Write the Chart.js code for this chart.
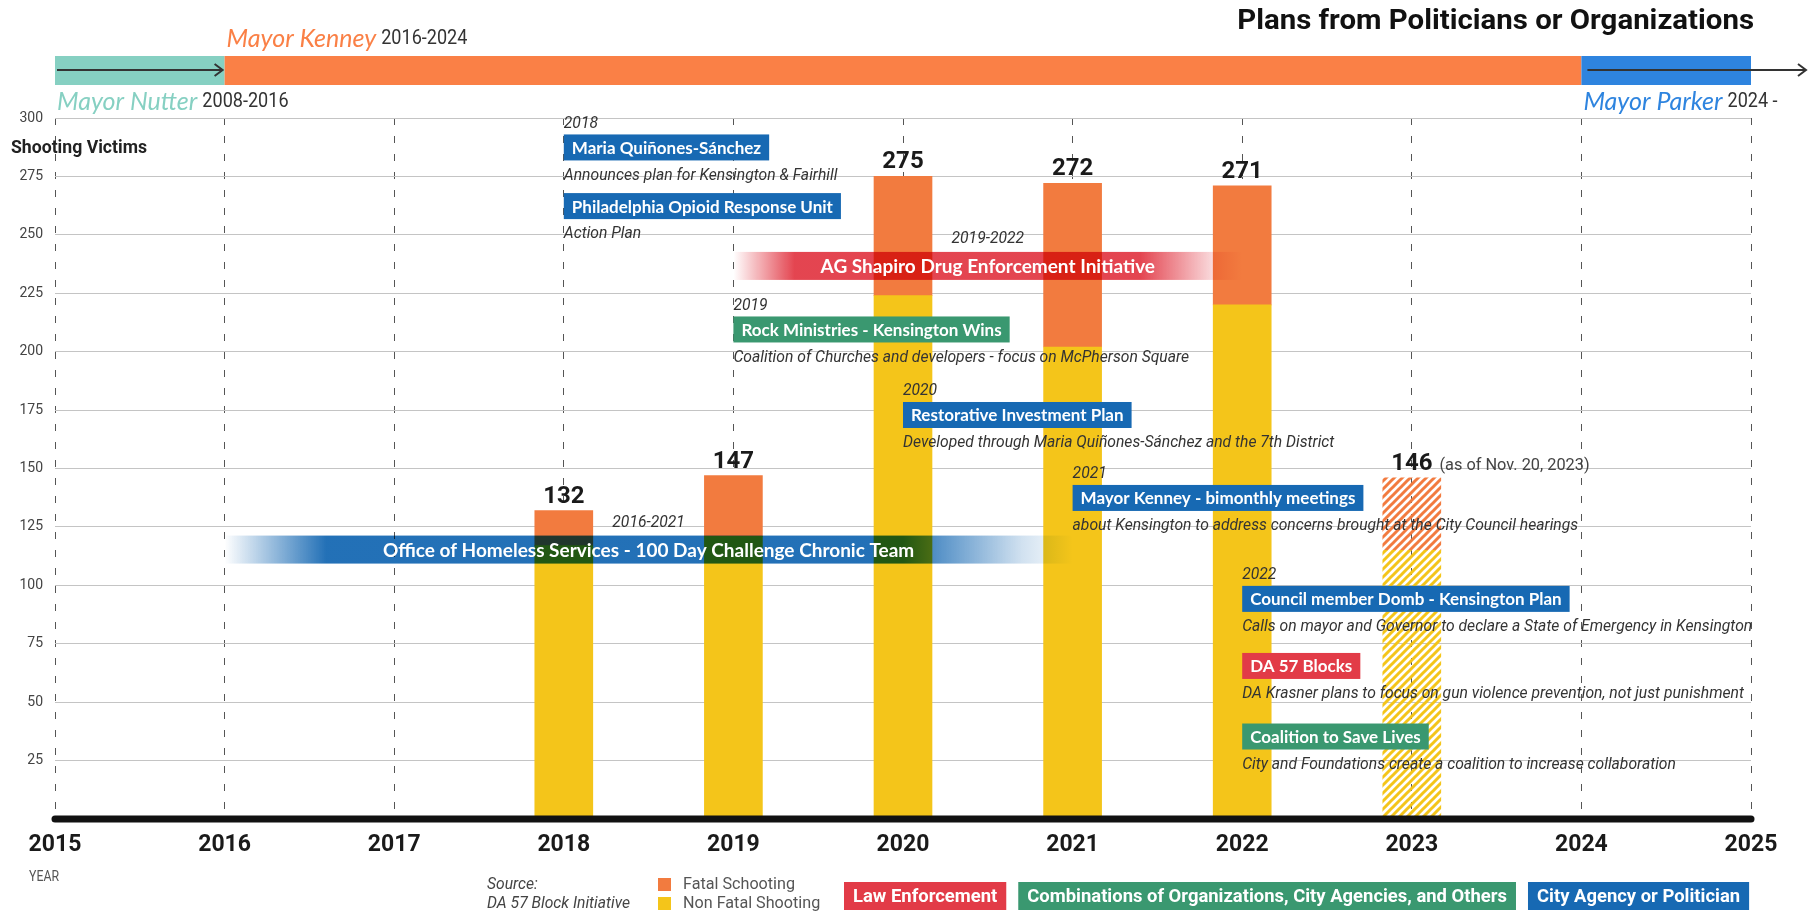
<!DOCTYPE html>
<html>
<head>
<meta charset="utf-8">
<script src="https://cdn.jsdelivr.net/npm/chart.js@4.4.1/dist/chart.umd.min.js"></script>
<style>
  html, body { margin: 0; padding: 0; background: #fff; overflow: hidden; }
  canvas { display: block; }
</style>
</head>
<body>
<canvas id="chart" width="1816" height="915"></canvas>
<script>
// Shooting victims per year
const years = ['2015', '2016', '2017', '2018', '2019', '2020', '2021', '2022', '2023', '2024', '2025'];
const nonFatal = [null, null, null, 117, 121, 224, 202, 220, 115, null, null];
const fatal = [null, null, null, 15, 26, 51, 70, 51, 31, null, null];
const partialYear = '2023';
const partialNote = '(as of Nov. 20, 2023)';

// Mayors on the top strip
const mayorNames = ['Mayor Nutter', 'Mayor Kenney', 'Mayor Parker'];
const mayorTerms = ['2008-2016', '2016-2024', '2024 -'];
const mayorFrom = ['2015', '2016', '2024'];
const mayorTo = ['2016', '2024', '2025'];

// Plans (boxes with a note under them)
const planDates = ['2018', '', '2019', '2020', '2021', '2022', '', ''];
const planTitles = [
  'Maria Quiñones-Sánchez',
  'Philadelphia Opioid Response Unit',
  'Rock Ministries - Kensington Wins',
  'Restorative Investment Plan',
  'Mayor Kenney - bimonthly meetings',
  'Council member Domb - Kensington Plan',
  'DA 57 Blocks',
  'Coalition to Save Lives'
];
const planNotes = [
  'Announces plan for Kensington & Fairhill',
  'Action Plan',
  'Coalition of Churches and developers - focus on McPherson Square',
  'Developed through Maria Quiñones-Sánchez and the 7th District',
  'about Kensington to address concerns brought at the City Council hearings',
  'Calls on mayor and Governor to declare a State of Emergency in Kensington',
  'DA Krasner plans to focus on gun violence prevention, not just punishment',
  'City and Foundations create a coalition to increase collaboration'
];
const planTypes = ['city', 'city', 'combo', 'city', 'city', 'city', 'law', 'combo'];

// Plans that run over several years (banners)
const spanTitles = ['AG Shapiro Drug Enforcement Initiative', 'Office of Homeless Services - 100 Day Challenge Chronic Team'];
const spanDates = ['2019-2022', '2016-2021'];
const spanFrom = ['2019', '2016'];
const spanTo = ['2022', '2021'];
const spanTypes = ['law', 'city'];

const typeKeys = ['law', 'combo', 'city'];
const typeLabels = ['Law Enforcement', 'Combinations of Organizations, City Agencies, and Others', 'City Agency or Politician'];

// ---- layout / style (not data) ----
const planAt = [['2018', 287.4], ['2018', 262.3], ['2019', 209.5], ['2020', 172.9], ['2021', 137.4], ['2022', 94.2], ['2022', 65.5], ['2022', 35.3]];
const spanAt = [236.7, 115.3];

const COLORS = {
  yellow: '#F4C51A',
  orange: '#F27B3F',
  law: [226, 59, 71],
  combo: [58, 152, 112],
  city: [23, 105, 179],
  nutter: '#86D0C2',
  kenney: '#FA8046',
  parker: '#2E84DF'
};
const rgb = (c, a) => `rgba(${c[0]},${c[1]},${c[2]},${a})`;

function stripes(color) {
  const c = document.createElement('canvas');
  c.width = c.height = 8;
  const g = c.getContext('2d');
  g.strokeStyle = color;
  g.lineWidth = 3;
  g.beginPath();
  g.moveTo(0, 8); g.lineTo(8, 0);
  g.moveTo(-2, 2); g.lineTo(2, -2);
  g.moveTo(6, 10); g.lineTo(10, 6);
  g.stroke();
  return g.createPattern(c, 'repeat');
}

const nonFatalFill = years.map(yr => yr === partialYear ? stripes(COLORS.yellow) : COLORS.yellow);
const fatalFill = years.map(yr => yr === partialYear ? stripes(COLORS.orange) : COLORS.orange);

// draws text with optional horizontal squeeze, returns drawn width
function label(ctx, str, x, y, font, color, align = 'left', squeeze = 1) {
  ctx.save();
  ctx.font = font;
  ctx.fillStyle = color;
  ctx.textBaseline = 'middle';
  ctx.textAlign = align;
  ctx.translate(x, y);
  ctx.scale(squeeze, 1);
  ctx.fillText(str, 0, 0);
  const w = ctx.measureText(str).width * squeeze;
  ctx.restore();
  return w;
}

function textWidth(ctx, str, font, squeeze = 1) {
  ctx.save();
  ctx.font = font;
  const w = ctx.measureText(str).width * squeeze;
  ctx.restore();
  return w;
}

const NOTE_FONT = 'italic 16.5px Roboto';
const NOTE_SQ = 0.95;
const BOX_FONT = 'bold 17px Lato';
const LEGEND_FONT = 'bold 19px Roboto';

const overlay = {
  id: 'overlay',
  afterDatasetsDraw(chart) {
    const { ctx, scales: { x, y } } = chart;
    const px = yr => x.getPixelForValue(years.indexOf(yr));
    const base = y.getPixelForValue(0);

    // thick baseline
    ctx.save();
    ctx.strokeStyle = '#111';
    ctx.lineWidth = 7;
    ctx.lineCap = 'round';
    ctx.beginPath();
    ctx.moveTo(px('2015'), base);
    ctx.lineTo(px('2025'), base);
    ctx.stroke();
    ctx.restore();

    // mayor strip
    const mayorColors = [COLORS.nutter, COLORS.kenney, COLORS.parker];
    mayorNames.forEach((name, i) => {
      const x0 = px(mayorFrom[i]);
      const x1 = px(mayorTo[i]);
      ctx.fillStyle = mayorColors[i];
      ctx.fillRect(x0, 56, x1 - x0, 29);
    });
    ctx.save();
    ctx.strokeStyle = '#333';
    ctx.lineWidth = 2;
    const arrow = (xa, xb) => {
      ctx.beginPath();
      ctx.moveTo(xa, 70); ctx.lineTo(xb, 70);
      ctx.moveTo(xb - 8, 64); ctx.lineTo(xb, 70); ctx.lineTo(xb - 8, 76);
      ctx.stroke();
    };
    arrow(px('2015') + 2, px('2016') - 2);
    arrow(px('2024') + 6, 1806);
    ctx.restore();

    mayorNames.forEach((name, i) => {
      const lx = px(mayorFrom[i]) + 2;
      const ly = i === 1 ? 39 : 102;
      const w = label(ctx, name, lx, ly, 'italic 25px Lato', mayorColors[i]);
      label(ctx, mayorTerms[i], lx + w + 5, ly, '21px Roboto', '#333', 'left', 0.86);
    });

    // titles
    label(ctx, 'Plans from Politicians or Organizations', 1754, 22, 'bold 28px Roboto', '#111', 'right', 1.05);
    label(ctx, 'Shooting Victims', 11, 148, 'bold 18px Roboto', '#222', 'left', 0.98);
    label(ctx, 'YEAR', 29, 877, '14px Roboto', '#555', 'left', 0.88);

    // totals above bars
    years.forEach((yr, i) => {
      if (nonFatal[i] == null) return;
      const total = nonFatal[i] + fatal[i];
      const tx = px(yr);
      const ty = y.getPixelForValue(total) - 14;
      const w = label(ctx, String(total), tx, ty, 'bold 24px Roboto', '#1a1a1a', 'center');
      if (yr === partialYear) {
        label(ctx, partialNote, tx + w / 2 + 7, ty + 2, '17px Roboto', '#444', 'left', 0.96);
      }
    });

    // banners
    spanTitles.forEach((title, i) => {
      const x0 = px(spanFrom[i]);
      const x1 = px(spanTo[i]);
      const yc = y.getPixelForValue(spanAt[i]);
      const c = COLORS[spanTypes[i]];
      const g = ctx.createLinearGradient(x0, 0, x1, 0);
      g.addColorStop(0, rgb(c, 0));
      g.addColorStop(0.12, rgb(c, 0.95));
      g.addColorStop(0.8, rgb(c, 0.95));
      g.addColorStop(0.94, rgb(c, 0.2));
      g.addColorStop(1, rgb(c, 0));
      ctx.save();
      ctx.globalCompositeOperation = 'multiply';
      ctx.fillStyle = g;
      ctx.fillRect(x0, yc - 14, x1 - x0, 28);
      ctx.restore();
      const cx = (x0 + x1) / 2;
      label(ctx, title, cx, yc + 1, 'bold 19px Lato', '#fff', 'center');
      label(ctx, spanDates[i], cx, yc - 27, NOTE_FONT, '#333', 'center', NOTE_SQ);
    });

    // plan boxes
    planTitles.forEach((title, i) => {
      const lx = px(planAt[i][0]);
      const yc = y.getPixelForValue(planAt[i][1]);
      const w = textWidth(ctx, title, BOX_FONT) + 16;
      ctx.fillStyle = rgb(COLORS[planTypes[i]], 1);
      ctx.fillRect(lx, yc - 13, w, 26);
      label(ctx, title, lx + 8, yc + 1, BOX_FONT, '#fff');
      if (planDates[i]) label(ctx, planDates[i], lx, yc - 24, NOTE_FONT, '#333', 'left', NOTE_SQ);
      label(ctx, planNotes[i], lx, yc + 28, NOTE_FONT, '#333', 'left', NOTE_SQ);
    });

    // legend
    label(ctx, 'Source:', 487, 885, NOTE_FONT, '#444', 'left', NOTE_SQ);
    label(ctx, 'DA 57 Block Initiative', 487, 904, NOTE_FONT, '#444', 'left', NOTE_SQ);
    ctx.fillStyle = COLORS.orange;
    ctx.fillRect(658, 878, 13, 13);
    ctx.fillStyle = COLORS.yellow;
    ctx.fillRect(658, 897, 13, 13);
    label(ctx, chart.data.datasets[1].label, 683, 885, '17px Roboto', '#555', 'left', 0.95);
    label(ctx, chart.data.datasets[0].label, 683, 904, '17px Roboto', '#555', 'left', 0.95);

    let lx = 844;
    typeKeys.forEach((k, i) => {
      const w = textWidth(ctx, typeLabels[i], LEGEND_FONT, 0.97) + 18;
      ctx.fillStyle = rgb(COLORS[k], 1);
      ctx.fillRect(lx, 882, w, 28);
      label(ctx, typeLabels[i], lx + 9, 897, LEGEND_FONT, '#fff', 'left', 0.97);
      lx += w + 12;
    });
  }
};

new Chart(document.getElementById('chart'), {
  type: 'bar',
  data: {
    labels: years,
    datasets: [
      { label: 'Non Fatal Shooting', data: nonFatal, backgroundColor: nonFatalFill, barThickness: 58 },
      { label: 'Fatal Schooting', data: fatal, backgroundColor: fatalFill, barThickness: 58 }
    ]
  },
  options: {
    responsive: false,
    animation: false,
    devicePixelRatio: 1,
    layout: { padding: { top: 118, right: 65, left: 0, bottom: 0 } },
    plugins: {
      legend: { display: false },
      tooltip: { enabled: false }
    },
    scales: {
      x: {
        stacked: true,
        offset: false,
        grid: { offset: false, color: '#555', lineWidth: 1, drawTicks: false },
        border: { display: false, dash: [7, 11] },
        ticks: {
          font: { family: 'Roboto', weight: 'bold', size: 23 },
          color: '#1a1a1a',
          padding: 12,
          maxRotation: 0,
          autoSkip: false
        },
        afterFit: s => { s.height = 96; }
      },
      y: {
        stacked: true,
        min: 0,
        max: 300,
        grid: { color: '#c4c4c4', lineWidth: 1, drawTicks: false },
        border: { display: false },
        ticks: {
          stepSize: 25,
          padding: 12,
          color: '#444',
          font: { family: 'Roboto', size: 14 },
          callback: v => v === 0 ? '' : v
        },
        afterFit: s => { s.width = 55; }
      }
    }
  },
  plugins: [overlay]
});
</script>
</body>
</html>
